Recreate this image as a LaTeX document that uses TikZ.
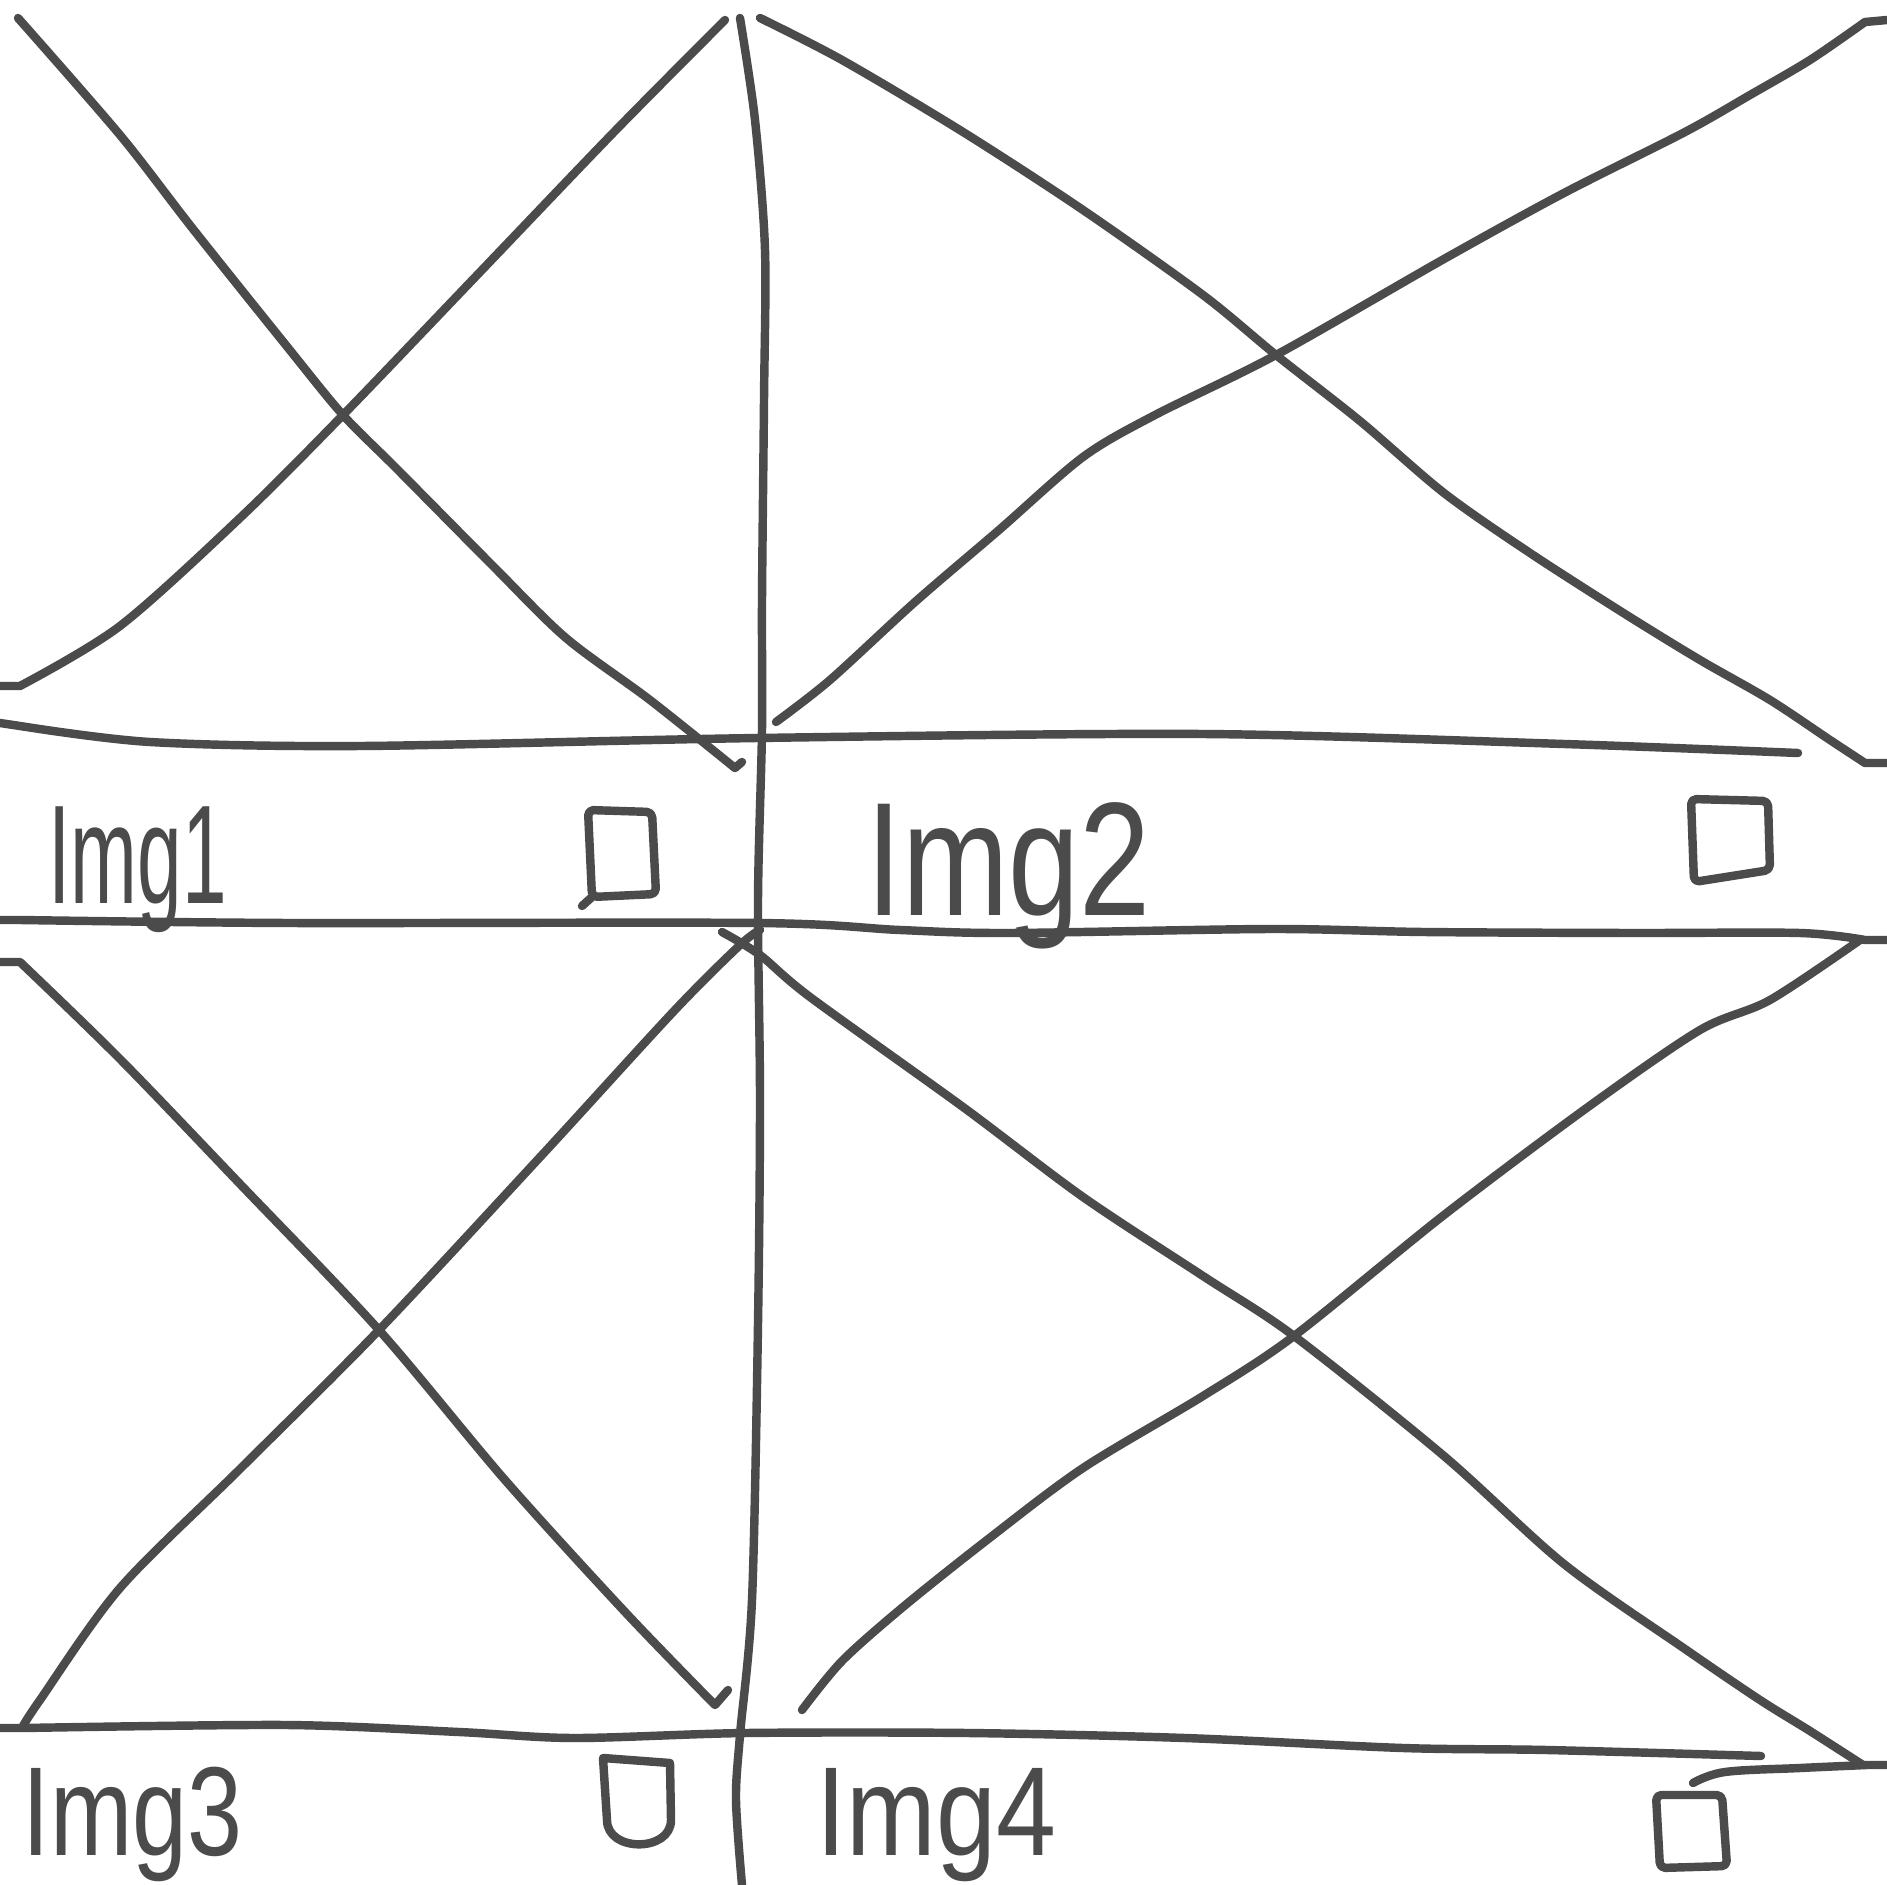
\documentclass[tikz,border=0pt]{standalone}
\usepackage{fontspec}
\setmainfont{Liberation Sans}
\definecolor{ink}{HTML}{4B4B4B}
\tikzset{
  pen/.style={draw=ink, line width=2.4pt, line cap=round, line join=round},
  lbl/.style={anchor=base west, inner sep=0pt, text=ink},
}
\newcommand{\hw}[3]{\fontsize{#1}{#1}\selectfont\scalebox{#2}[1]{#3}}
\begin{document}
\begin{tikzpicture}[x=0.01cm, y=-0.01cm]
\useasboundingbox (0,0) rectangle (1887,1885);
\fill[white] (0,0) rectangle (1887,1885);
\clip (0,0) rectangle (1887,1885);

% ---- top-left image placeholder (cross) ----
\draw[pen] plot[smooth, tension=0.5] coordinates {(18,18) (120,135) (193,229) (289,349) (343,415) (397,469) (493,566) (566,638) (650,700) (735,768)} -- (742,762);
\draw[pen] (0,686) -- plot[smooth, tension=0.5] coordinates {(20,686) (120,626) (241,517) (343,415) (481,271) (614,132) (725,20)};

% ---- top-right image placeholder (cross) ----
\draw[pen] plot[smooth, tension=0.5] coordinates {(760,18) (842,60) (963,132) (1083,210) (1203,295) (1276,355) (1360,421) (1444,493) (1530,553) (1625,614) (1700,660) (1770,700) (1830,740) (1865,763)} -- (1887,763);
\draw[pen] plot[smooth, tension=0.5] coordinates {(776,722) (830,680) (915,602) (999,530) (1083,457) (1155,415) (1276,355) (1444,259) (1564,193) (1685,132) (1750,95) (1810,60) (1865,22)} -- (1887,20);

% ---- central vertical divider ----
\draw[pen] plot[smooth, tension=0.5] coordinates {(740,18) (755,120) (765,250) (764,400) (762,600) (762,730) (758,900) (760,1100) (758,1324) (752,1600) (740,1735) (736,1800) (742,1885)};

% ---- horizontal rules ----
\draw[pen] (0,723) -- plot[smooth, tension=0.5] coordinates {(20,726) (150,742) (361,746) (758,738) (1203,734) (1564,744) (1798,753)};
\draw[pen] (0,920) -- plot[smooth, tension=0.5] coordinates {(20,920) (290,923) (758,923) (900,930) (1008,933) (1271,929) (1424,932) (1632,933) (1800,933) (1865,940)} -- (1887,940);
\draw[pen] (0,1728) -- plot[smooth, tension=0.5] coordinates {(23,1728) (287,1725) (459,1732) (574,1738) (746,1733) (968,1733) (1185,1738) (1403,1748) (1547,1750) (1761,1756)};
\draw[pen] plot[smooth, tension=0.6] coordinates {(1693,1783) (1725,1772) (1800,1768) (1867,1765)} -- (1887,1765);

% ---- bottom-left image placeholder (cross) ----
\draw[pen] (0,962) -- plot[smooth, tension=0.5] coordinates {(20,962) (120,1059) (241,1185) (379,1330) (505,1480) (626,1613) (715,1705)} -- (728,1690);
\draw[pen] plot[smooth, tension=0.5] coordinates {(23,1726) (40,1700) (120,1588) (241,1468) (379,1330) (542,1155) (674,1011) (740,945) (760,930)};

% ---- bottom-right image placeholder (cross) ----
\draw[pen] plot[smooth, tension=0.5] coordinates {(722,932) (760,955) (810,997) (963,1107) (1083,1197) (1203,1276) (1294,1336) (1444,1456) (1564,1564) (1685,1649) (1760,1700) (1810,1731) (1863,1765)};
\draw[pen] plot[smooth, tension=0.5] coordinates {(802,1710) (842,1661) (903,1607) (987,1540) (1083,1468) (1203,1396) (1294,1336) (1444,1215) (1588,1107) (1700,1030) (1770,1000) (1860,940)};

% ---- check boxes ----
\draw[pen, rounded corners=1.5pt] (588,810) -- (652,812) -- (656,894) -- (592,897) -- cycle;
\draw[pen] (592,897) -- (582,906);
\draw[pen, rounded corners=1.5pt] (1691,799) -- (1768,801) -- (1770,870) -- (1694,882) -- cycle;
\draw[pen] (603,1758) -- (670,1763) -- (671,1820) to[out=-90, in=-90, looseness=1.3] (607,1820) -- cycle;
\draw[pen, rounded corners=1.5pt] (1656,1795) -- (1722,1795) -- (1727,1866) -- (1660,1868) -- cycle;

% ---- labels ----
\node[lbl] (img1) at (48,903) {\hw{40pt}{0.57}{Img1}};
\node[lbl] (img2) at (866,915) {\hw{46pt}{0.79}{Img2}};
\node[lbl] (img3) at (22,1855) {\hw{36pt}{0.78}{Img3}};
\node[lbl] (img4) at (816,1855) {\hw{36pt}{0.85}{Img4}};
\end{tikzpicture}
\end{document}
